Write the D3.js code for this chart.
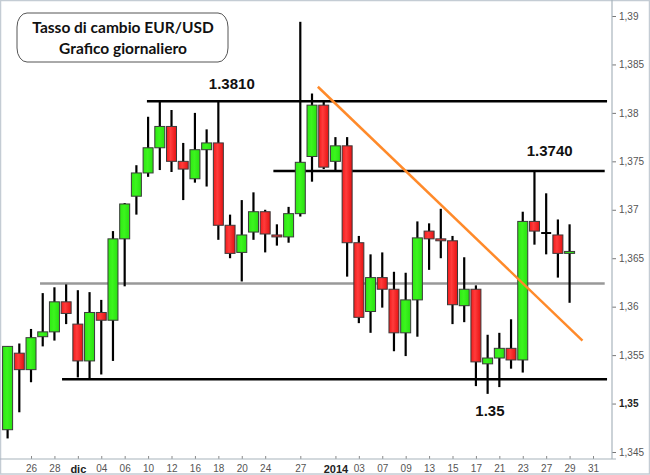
<!DOCTYPE html>
<html><head><meta charset="utf-8">
<script src="https://cdn.jsdelivr.net/npm/d3@7"></script>
<style>html,body{margin:0;padding:0;background:#fff}</style>
</head><body><svg id="c" width="650" height="475"></svg>
<script>
// ---- data ----
const dates = ["22/11","25/11","26/11","27/11","28/11","29/11","02/12","03/12","04/12","05/12","06/12",
 "09/12","10/12","11/12","12/12","13/12","16/12","17/12","18/12","19/12","20/12","23/12","24/12","25/12",
 "26/12","27/12","30/12","31/12","01/01","02/01","03/01","06/01","07/01","08/01","09/01","10/01","13/01",
 "14/01","15/01","16/01","17/01","20/01","21/01","22/01","23/01","24/01","27/01","28/01","29/01"];
const open  = [1.3473,1.3552,1.3535,1.3569,1.3574,1.3605,1.3582,1.3544,1.3594,1.3586,1.3670,
 1.3714,1.3738,1.3764,1.3786,1.3750,1.3732,1.3762,1.3769,1.3684,1.3656,1.3677,1.3698,1.3674,
 1.3672,1.3696,1.3755,1.3808,1.3750,1.3766,1.3666,1.3595,1.3630,1.3618,1.3573,1.3607,1.3678,
 1.3670,1.3668,1.3601,1.3618,1.3541,1.3547,1.3557,1.3545,1.3688,1.3676,1.3674,1.3655];
const high  = [1.3559,1.3562,1.3577,1.3614,1.3620,1.3623,1.3617,1.3615,1.3607,1.3678,1.3707,
 1.3746,1.3796,1.3812,1.3803,1.3769,1.3800,1.3783,1.3812,1.3695,1.3710,1.3718,1.3700,1.3685,
 1.3703,1.3894,1.3820,1.3813,1.3775,1.3775,1.3673,1.3654,1.3656,1.3636,1.3635,1.3688,1.3686,
 1.3701,1.3673,1.3651,1.3622,1.3571,1.3573,1.3587,1.3698,1.3741,1.3717,1.3690,1.3685];
const low   = [1.3464,1.3491,1.3522,1.3559,1.3565,1.3582,1.3527,1.3525,1.3530,1.3544,1.3621,
 1.3695,1.3734,1.3741,1.3739,1.3710,1.3728,1.3724,1.3669,1.3650,1.3626,1.3669,1.3656,1.3663,
 1.3666,1.3693,1.3729,1.3742,1.3741,1.3631,1.3583,1.3573,1.3599,1.3554,1.3549,1.3569,1.3638,
 1.3650,1.3582,1.3584,1.3518,1.3510,1.3517,1.3536,1.3532,1.3664,1.3654,1.3630,1.3604];
const close = [1.3559,1.3535,1.3568,1.3574,1.3605,1.3593,1.3544,1.3594,1.3586,1.3670,1.3706,
 1.3738,1.3764,1.3786,1.3750,1.3742,1.3762,1.3769,1.3684,1.3655,1.3674,1.3698,1.3675,1.3672,
 1.3696,1.3749,1.3808,1.3744,1.3766,1.3666,1.3589,1.3630,1.3618,1.3573,1.3607,1.3671,1.3670,
 1.3668,1.3602,1.3618,1.3543,1.3547,1.3557,1.3545,1.3688,1.3678,1.3676,1.3655,1.3657];

const tickIdx  = [2,4,6,8,10,12,14,16,18,20,22,25,28,30,32,34,36,38,40,42,44,46,48,50];
const tickText = ["26","28","dic","04","06","10","12","16","18","20","24","27","2014","03","07","09","13","15","17","21","23","27","29","31"];
const boldTicks = ["dic","2014"];
const yTicks = [1.345,1.35,1.355,1.36,1.365,1.37,1.375,1.38,1.385,1.39];

// horizontal levels: value, start index, end index, colour
const levelValue = [1.3812, 1.3740, 1.3624, 1.3525];
const levelFrom  = [11.9, 22.7, 2.77, 4.65];
const levelTo    = [51.2, 51.0, 51.0, 51.2];
const levelColor = ["#000","#000","#999","#000"];
// level text labels: text, anchor index, anchor price
const labelText  = ["1.3810","1.3740","1.35"];
const labelIdx   = [19.15, 46.3, 41.2];
const labelPrice = [1.3825, 1.3755, 1.3487];
// trend line (index, price)
const trendIdx   = [26.5, 49.1];
const trendPrice = [1.3827, 1.3565];

const titleLines = ["Tasso di cambio EUR/USD","Grafico giornaliero"];

// ---- drawing ----
const svg = d3.select("#c");
const W = 650, H = 475;
const axisX = 612, axisY = 459;
const x = d3.scaleLinear().domain([0, 50]).range([7.6, 593]);
const y = d3.scaleLinear().domain([1.345, 1.39]).range([452, 16]);

const defs = svg.append("defs");
const rg = defs.append("linearGradient").attr("id","redg").attr("x1","0").attr("x2","1").attr("y1","0").attr("y2","0");
rg.append("stop").attr("offset","0%").attr("stop-color","#f21a1a");
rg.append("stop").attr("offset","40%").attr("stop-color","#ff3c3c");
rg.append("stop").attr("offset","100%").attr("stop-color","#e51212");
const gg = defs.append("linearGradient").attr("id","greeng").attr("x1","0").attr("x2","1").attr("y1","0").attr("y2","0");
gg.append("stop").attr("offset","0%").attr("stop-color","#2fe814");
gg.append("stop").attr("offset","45%").attr("stop-color","#3cf51e");
gg.append("stop").attr("offset","100%").attr("stop-color","#28e010");

// frame
svg.append("rect").attr("x",0.5).attr("y",0.5).attr("width",W-1).attr("height",H-1.5)
  .attr("fill","none").attr("stroke","#c4ccd4").attr("stroke-width",1.5);

// levels
levelValue.forEach((v,i)=>{
  svg.append("line").attr("x1",x(levelFrom[i])).attr("x2",x(levelTo[i]))
    .attr("y1",y(v)).attr("y2",y(v)).attr("stroke",levelColor[i]).attr("stroke-width",2.5);
});

// candles
const bw = 10;
const data = dates.map((d,i)=>({i, o:open[i], h:high[i], l:low[i], c:close[i]}));
const g = svg.append("g");
g.selectAll("line.wick").data(data).join("line").attr("class","wick")
  .attr("x1",d=>x(d.i)).attr("x2",d=>x(d.i))
  .attr("y1",d=>y(d.h)).attr("y2",d=>y(d.l))
  .attr("stroke","#000").attr("stroke-width",2.2);
g.selectAll("rect.body").data(data.filter(d=>d.o!==d.c)).join("rect").attr("class","body")
  .attr("x",d=>x(d.i)-bw/2).attr("width",bw)
  .attr("y",d=>y(Math.max(d.o,d.c)))
  .attr("height",d=>Math.max(1.5, Math.abs(y(d.o)-y(d.c))))
  .attr("fill",d=>d.c>d.o?"url(#greeng)":"url(#redg)")
  .attr("stroke","#3a3a3a").attr("stroke-width",1);
g.selectAll("line.doji").data(data.filter(d=>d.o===d.c)).join("line").attr("class","doji")
  .attr("x1",d=>x(d.i)-bw/2).attr("x2",d=>x(d.i)+bw/2)
  .attr("y1",d=>y(d.o)).attr("y2",d=>y(d.o))
  .attr("stroke","#000").attr("stroke-width",2);

// trend line
svg.append("line").attr("x1",x(trendIdx[0])).attr("y1",y(trendPrice[0]))
  .attr("x2",x(trendIdx[1])).attr("y2",y(trendPrice[1]))
  .attr("stroke","#ff8a2a").attr("stroke-width",2.5);

// level labels
labelText.forEach((t,i)=>{
  svg.append("text").attr("x",x(labelIdx[i])).attr("y",y(labelPrice[i]))
    .attr("text-anchor","middle").attr("font-family","Liberation Sans, Arial, sans-serif")
    .attr("font-weight","bold").attr("font-size",15).attr("fill","#111").text(t);
});

// right axis
const fmt = d3.formatLocale({decimal:",",thousands:".",grouping:[3],currency:["","€"]}).format(".3~f");
const ya = svg.append("g").attr("transform",`translate(${axisX},0)`)
  .call(d3.axisRight(y).tickValues(yTicks).tickSize(4).tickPadding(3).tickFormat(fmt));
ya.select(".domain").remove();
ya.selectAll(".tick line").attr("stroke","#777");
ya.selectAll(".tick text").attr("font-family","Liberation Sans, Arial, sans-serif").attr("font-size",10)
  .attr("fill","#444").attr("font-weight",d=>d===1.35?"bold":"normal")
  .attr("fill",d=>d===1.35?"#222":"#555");
svg.append("line").attr("x1",axisX).attr("x2",axisX).attr("y1",0).attr("y2",axisY)
  .attr("stroke","#a8b4bc").attr("stroke-width",1.2);

// bottom axis
const xa = svg.append("g").attr("transform",`translate(0,${axisY})`)
  .call(d3.axisBottom(x).tickValues(tickIdx).tickSize(-3).tickPadding(4).tickFormat((d,i)=>tickText[i]));
xa.select(".domain").remove();
xa.selectAll(".tick line").attr("stroke","#888");
xa.selectAll(".tick text").attr("y",6).attr("dy","0.71em")
  .attr("font-family","Liberation Sans, Arial, sans-serif").attr("font-size",10)
  .attr("font-weight",(d,i)=>boldTicks.includes(tickText[i])?"bold":"normal")
  .attr("font-size",(d,i)=>boldTicks.includes(tickText[i])?11:10)
  .attr("fill",(d,i)=>boldTicks.includes(tickText[i])?"#222":"#555");
svg.append("line").attr("x1",0).attr("x2",axisX+4).attr("y1",axisY).attr("y2",axisY)
  .attr("stroke","#a8b4bc").attr("stroke-width",1.2);

// title box
svg.append("rect").attr("x",17).attr("y",13).attr("width",211).attr("height",49)
  .attr("rx",10).attr("ry",14).attr("fill","#fff").attr("stroke","#555").attr("stroke-width",1);
titleLines.forEach((t,i)=>{
  svg.append("text").attr("x",123).attr("y",33+i*21).attr("text-anchor","middle")
    .attr("font-family","Lato, sans-serif").attr("font-weight","bold").attr("font-size",15.5)
    .attr("fill","#111").text(t);
});
</script></body></html>
